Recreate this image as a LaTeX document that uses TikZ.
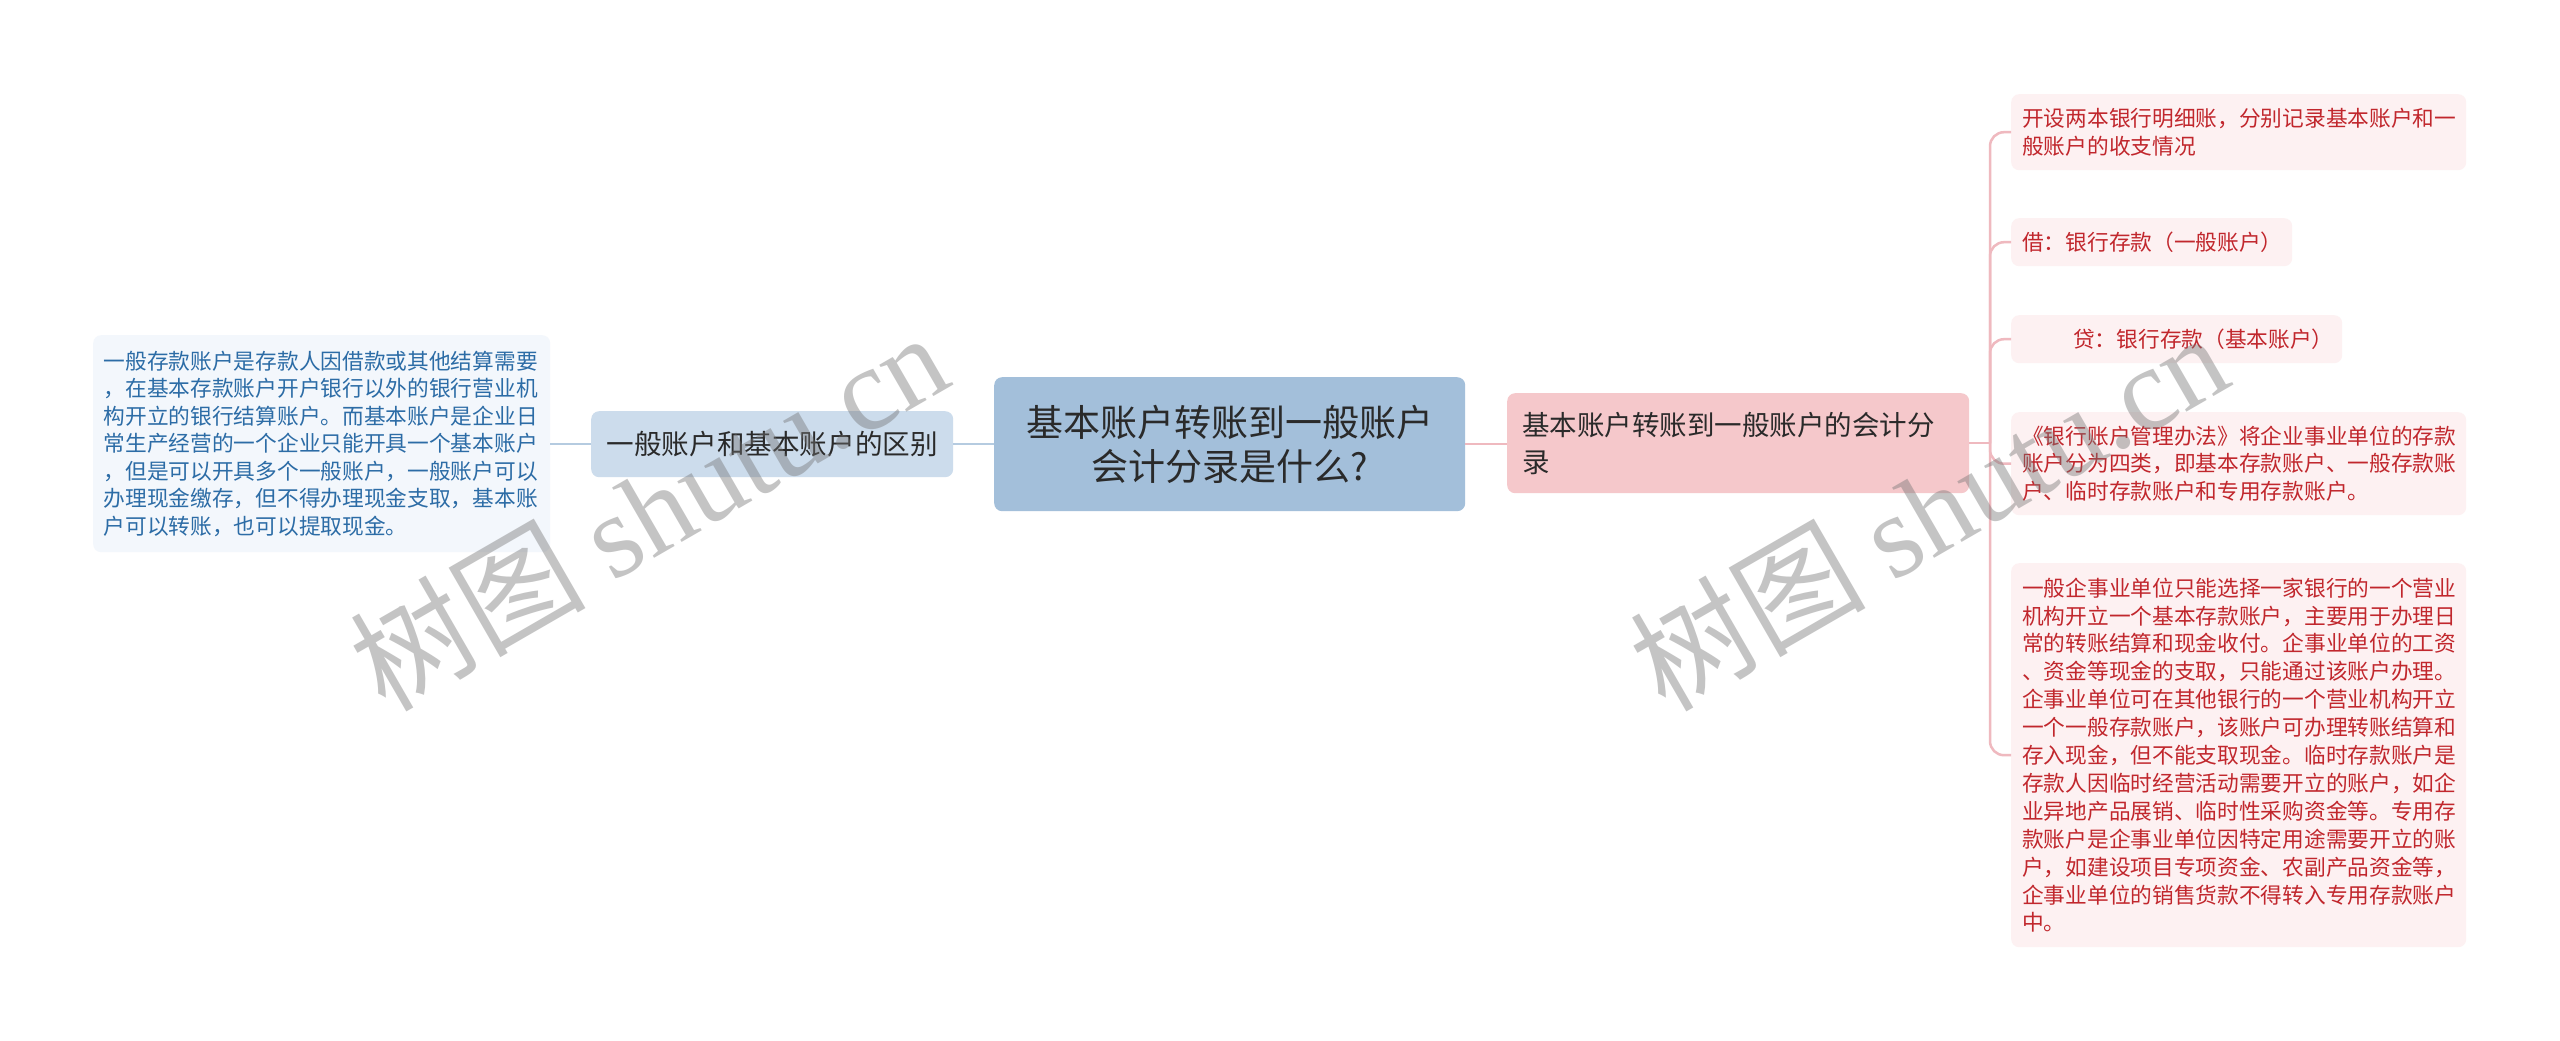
\documentclass[tikz,border=0pt]{standalone}
\usepackage{fontspec}
\setmainfont{Noto Sans CJK SC}
\newfontfamily\wmserif{Liberation Serif}
\definecolor{centerfill}{HTML}{A3BFDA}
\definecolor{midfill}{HTML}{CCDCEC}
\definecolor{lleaffill}{HTML}{F3F7FC}
\definecolor{rmainfill}{HTML}{F5C8CB}
\definecolor{rleaffill}{HTML}{FDF1F2}
\definecolor{redtext}{HTML}{C1272D}
\definecolor{bluetext}{HTML}{2C6CA6}
\definecolor{darktext}{HTML}{2A2A2A}
\definecolor{lineblue}{HTML}{B5CBE0}
\definecolor{linepink}{HTML}{EFB9BF}
\tikzset{
  boxbase/.style={rounded corners=8pt, inner ysep=0pt, anchor=north west},
  centerbox/.style={boxbase, fill=centerfill, text=darktext, align=center, inner xsep=0pt,
    font=\fontsize{37}{44}\selectfont},
  midbox/.style={boxbase, fill=midfill, text=darktext, align=center, inner xsep=0pt,
    font=\fontsize{27.6}{34}\selectfont},
  lleafbox/.style={boxbase, fill=lleaffill, text=bluetext, align=left, inner xsep=10.5pt,
    font=\fontsize{21.7}{27.5}\selectfont},
  rmainbox/.style={boxbase, fill=rmainfill, text=darktext, align=left, inner xsep=15pt,
    font=\fontsize{27.5}{37}\selectfont},
  rleafbox/.style={boxbase, fill=rleaffill, text=redtext, align=left, inner xsep=11pt,
    font=\fontsize{21.7}{27.9}\selectfont},
  lineB/.style={draw=lineblue, line width=2.5pt},
  lineR/.style={draw=linepink, line width=2.5pt, rounded corners=14pt},
  wmark/.style={text=black!55, text opacity=0.42, font=\fontsize{118}{120}\selectfont, inner sep=0pt}
}
\begin{document}
\begin{tikzpicture}[x=1pt,y=-1pt]
\path[fill=white] (0,0) rectangle (2560,1041);
\useasboundingbox (0,0) rectangle (2560,1041);

% nodes
\node[centerbox, minimum width=471pt, minimum height=134pt, text width=471pt] (center) at (994,377)
  {基本账户转账到一般账户\\会计分录是什么?};
\node[midbox, minimum width=362pt, minimum height=66pt, text width=362pt] (mid) at (591,411)
  {一般账户和基本账户的区别};
\node[lleafbox, minimum height=217pt, text width=436pt] (lleaf) at (93,335)
  {一般存款账户是存款人因借款或其他结算需要\\
   ，在基本存款账户开户银行以外的银行营业机\\
   构开立的银行结算账户。而基本账户是企业日\\
   常生产经营的一个企业只能开具一个基本账户\\
   ，但是可以开具多个一般账户，一般账户可以\\
   办理现金缴存，但不得办理现金支取，基本账\\
   户可以转账，也可以提取现金。};
\node[rmainbox, minimum height=100pt, text width=432pt] (rmain) at (1507,393)
  {基本账户转账到一般账户的会计分\\录};
\node[rleafbox, minimum height=76pt, text width=433pt] (r1) at (2011,94)
  {开设两本银行明细账，分别记录基本账户和一\\般账户的收支情况};
\node[rleafbox, minimum height=48pt, text width=259pt] (r2) at (2011,218)
  {借：银行存款（一般账户）};
\node[rleafbox, minimum height=48pt, text width=309pt] (r3) at (2011,315)
  {\hspace*{51pt}贷：银行存款（基本账户）};
\node[rleafbox, minimum height=103pt, text width=433pt] (r4) at (2011,412)
  {《银行账户管理办法》将企业事业单位的存款\\
   账户分为四类，即基本存款账户、一般存款账\\
   户、临时存款账户和专用存款账户。};
\node[rleafbox, minimum height=384pt, text width=433pt] (r5) at (2011,563)
  {一般企事业单位只能选择一家银行的一个营业\\
   机构开立一个基本存款账户，主要用于办理日\\
   常的转账结算和现金收付。企事业单位的工资\\
   、资金等现金的支取，只能通过该账户办理。\\
   企事业单位可在其他银行的一个营业机构开立\\
   一个一般存款账户，该账户可办理转账结算和\\
   存入现金，但不能支取现金。临时存款账户是\\
   存款人因临时经营活动需要开立的账户，如企\\
   业异地产品展销、临时性采购资金等。专用存\\
   款账户是企事业单位因特定用途需要开立的账\\
   户，如建设项目专项资金、农副产品资金等，\\
   企事业单位的销售货款不得转入专用存款账户\\
   中。};

% connectors
\draw[lineB] (center.west) -- (center.west -| mid.east);
\draw[lineB] (mid.west) -- (mid.west -| lleaf.east);
\draw[lineR] (center.east) -- (center.east -| rmain.west);
\coordinate (trunk) at (1990,443);
\draw[lineR] (rmain.east) -- (rmain.east -| trunk);
\foreach \leaf in {r1,r2,r3,r4,r5}{
  \draw[lineR] (rmain.east -| trunk) -- (trunk |- \leaf.west) -- (\leaf.west);
}

% watermarks
\node[wmark, rotate=30] (wm1) at (648,510) {树图 {\wmserif shutu.cn}};
\node[wmark, rotate=30] (wm2) at (1928,510) {树图 {\wmserif shutu.cn}};
\end{tikzpicture}
\end{document}
